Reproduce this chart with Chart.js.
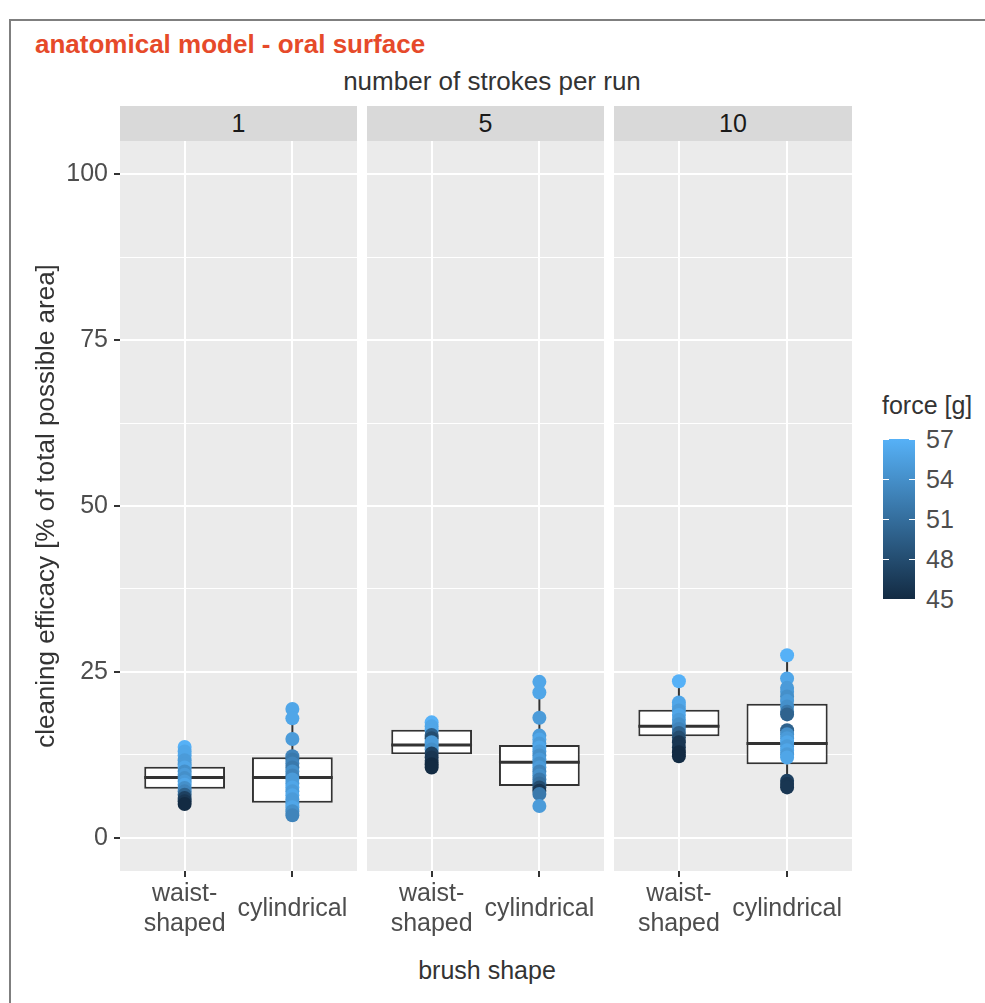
<!DOCTYPE html>
<html><head><meta charset="utf-8">
<script src="https://cdn.jsdelivr.net/npm/chart.js@4.4.0/dist/chart.umd.min.js"></script>
<style>
html,body{margin:0;padding:0;background:#fff;}
#root{position:relative;width:985px;height:1003px;overflow:hidden;font-family:'Liberation Sans',Arial,sans-serif;}
.frame{position:absolute;left:9px;top:19px;width:1000px;height:1000px;border-left:2px solid #7f7f7f;border-top:2px solid #7f7f7f;}
.t{position:absolute;white-space:nowrap;}
.strip{position:absolute;top:106px;height:35px;background:#D9D9D9;color:#1A1A1A;font-size:25px;line-height:35px;text-align:center;}
canvas{position:absolute;top:141px;}
</style></head>
<body><div id="root">
<div class="frame"></div>
<div class="t" style="left:35px;top:29px;font-size:26px;font-weight:bold;color:#E64A2A;">anatomical model - oral surface</div>
<div class="t" id="facetTitle" style="left:0;width:984px;text-align:center;top:66px;font-size:26px;color:#333;">number of strokes per run</div>
<div class="t" id="xTitle" style="left:0;width:974px;text-align:center;top:956px;font-size:25px;color:#333;">brush shape</div>
<canvas id="c0" width="357" height="830" style="left:0px"></canvas>
<canvas id="c1" width="237" height="830" style="left:367px"></canvas>
<canvas id="c2" width="238" height="830" style="left:614px"></canvas>
<div id="legend"></div>
</div>
<script>
// ---- data ----
const panelLabels = ['1', '5', '10'];
const shapeLabels = [['waist-', 'shaped'], 'cylindrical'];
const yMajorTicks = [0, 25, 50, 75, 100];
const yMinorTicks = [12.5, 37.5, 62.5, 87.5];
const legendTicks = [45, 48, 51, 54, 57];

const waist1 = [13.7, 13.0, 12.4, 11.7, 11.1, 10.6, 10.0, 9.5, 9.0, 8.5, 8.0, 7.5, 7.0, 6.5, 6.0, 5.5, 5.1];
const waist1Force = [57, 56, 56, 55, 55, 56, 54, 55, 54, 55, 56, 54, 53, 50, 47, 46, 45];
const cyl1 = [19.4, 18.0, 14.9, 12.3, 11.8, 11.2, 10.6, 10.0, 9.4, 8.8, 8.2, 7.6, 7.0, 6.4, 5.8, 5.2, 4.6, 4.0, 3.4];
const cyl1Force = [56, 56, 55, 53, 52, 53, 52, 54, 53, 55, 55, 56, 55, 56, 55, 55, 56, 54, 53];

const waist5 = [17.4, 16.8, 16.2, 15.5, 15.0, 14.4, 13.8, 13.3, 12.7, 12.1, 11.6, 11.1, 10.6];
const waist5Force = [57, 56, 56, 50, 48, 55, 55, 54, 47, 46, 46, 45, 45];
const cyl5 = [23.5, 21.9, 18.1, 15.4, 14.8, 14.2, 13.6, 13.0, 12.4, 11.8, 11.2, 10.6, 10.0, 9.4, 8.8, 8.2, 7.6, 7.1, 6.6, 4.8];
const cyl5Force = [56, 56, 55, 55, 56, 55, 56, 55, 54, 55, 54, 55, 53, 54, 52, 51, 48, 46, 52, 55];

const waist10 = [23.6, 20.4, 19.8, 19.2, 18.5, 17.8, 17.1, 16.4, 15.8, 15.1, 14.4, 13.6, 12.9, 12.3];
const waist10Force = [57, 56, 56, 55, 56, 55, 54, 53, 50, 48, 46, 46, 45, 45];
const cyl10 = [27.5, 24.0, 22.6, 22.0, 21.3, 20.6, 19.8, 19.0, 18.6, 16.2, 15.6, 15.0, 14.4, 13.8, 13.2, 12.6, 12.1, 8.6, 8.1, 7.6];
const cyl10Force = [57, 56, 55, 55, 54, 55, 54, 52, 50, 50, 54, 55, 56, 55, 56, 55, 56, 47, 46, 46];

const boxQ1 = [[7.4, 5.3], [12.6, 7.8], [15.3, 11.1]];
const boxMedian = [[9.1, 9.1], [14.0, 11.4], [16.8, 14.2]];
const boxQ3 = [[10.7, 12.15], [16.3, 14.0], [19.3, 20.2]];

const panelValues = [[waist1, cyl1], [waist5, cyl5], [waist10, cyl10]];
const panelForces = [[waist1Force, cyl1Force], [waist5Force, cyl5Force], [waist10Force, cyl10Force]];

// ---- colour scale (ggplot default gradient) ----
const lowCol = [0x13, 0x2B, 0x43], highCol = [0x56, 0xB1, 0xF7];
const fMin = 45, fMax = 57;
function forceColor(f) {
  const t = Math.max(0, Math.min(1, (f - fMin) / (fMax - fMin)));
  const c = lowCol.map((l, i) => Math.round(l + (highCol[i] - l) * t));
  return 'rgb(' + c.join(',') + ')';
}

Chart.defaults.font.family = "'Liberation Sans', Arial, sans-serif";
Chart.defaults.animation = false;

const bgPlugin = {
  id: 'panelBg',
  beforeDraw(chart) {
    const a = chart.chartArea, ctx = chart.ctx;
    ctx.save(); ctx.fillStyle = '#EBEBEB';
    ctx.fillRect(a.left, a.top, a.right - a.left, a.bottom - a.top);
    ctx.restore();
  }
};

const boxPlugin = {
  id: 'boxParts',
  beforeDatasetDraw(chart, args) {
    const ds = chart.data.datasets[args.index];
    if (!ds.isBox) return;
    const ys = chart.scales.y, ctx = chart.ctx;
    ctx.save(); ctx.strokeStyle = '#333'; ctx.lineWidth = 2;
    args.meta.data.forEach((el, i) => {
      ctx.beginPath();
      ctx.moveTo(el.x, ys.getPixelForValue(ds.lo[i])); ctx.lineTo(el.x, ys.getPixelForValue(ds.q1[i]));
      ctx.moveTo(el.x, ys.getPixelForValue(ds.q3[i])); ctx.lineTo(el.x, ys.getPixelForValue(ds.hi[i]));
      ctx.stroke();
    });
    ctx.restore();
  },
  afterDatasetDraw(chart, args) {
    const ds = chart.data.datasets[args.index];
    if (!ds.isBox) return;
    const ys = chart.scales.y, ctx = chart.ctx;
    ctx.save(); ctx.strokeStyle = '#333'; ctx.lineWidth = 3;
    args.meta.data.forEach((el, i) => {
      const y = ys.getPixelForValue(ds.med[i]);
      ctx.beginPath(); ctx.moveTo(el.x - el.width / 2, y); ctx.lineTo(el.x + el.width / 2, y); ctx.stroke();
    });
    ctx.restore();
  }
};

function makePanel(p) {
  const showY = p === 0;
  const vals = panelValues[p], forces = panelForces[p];
  const pts = [], cols = [];
  vals.forEach((arr, g) => arr.forEach((v, k) => { pts.push({ x: g + 1, y: v }); cols.push(forceColor(forces[g][k])); }));
  const q1 = boxQ1[p], q3 = boxQ3[p], med = boxMedian[p];
  const lo = vals.map(a => Math.min(...a)), hi = vals.map(a => Math.max(...a));
  const yAll = yMajorTicks.concat(yMinorTicks).sort((a, b) => a - b);
  const isMajor = v => yMajorTicks.includes(v);
  new Chart(document.getElementById('c' + p), {
    type: 'bar',
    data: {
      datasets: [
        { type: 'scatter', order: 0, data: pts, backgroundColor: cols, borderWidth: 0, pointRadius: 7, pointHoverRadius: 7 },
        { type: 'bar', order: 1, isBox: true, q1: q1, q3: q3, med: med, lo: lo, hi: hi,
          data: [{ x: 1, y: [q1[0], q3[0]] }, { x: 2, y: [q1[1], q3[1]] }],
          backgroundColor: '#FFFFFF', borderColor: '#333333', borderWidth: 2, borderSkipped: false,
          barPercentage: 0.75, categoryPercentage: 1 }
      ]
    },
    options: {
      responsive: false,
      layout: { padding: 0, autoPadding: false },
      plugins: { legend: { display: false }, tooltip: { enabled: false } },
      scales: {
        x: {
          type: 'linear', min: 0.4, max: 2.6, offset: false,
          afterBuildTicks: s => { s.ticks = [1, 2].map(v => ({ value: v })); },
          afterFit: s => { s.height = 100; s.paddingLeft = 0; s.paddingRight = 0; },
          grid: { offset: false, color: '#FFFFFF', lineWidth: 2, tickColor: '#333333', tickLength: 6 },
          border: { display: false },
          ticks: { color: '#4D4D4D', font: { size: 25 }, padding: 17, crossAlign: 'center', maxRotation: 0, autoSkip: false,
                   callback: v => shapeLabels[v - 1] }
        },
        y: {
          type: 'linear', min: -5, max: 105,
          afterBuildTicks: s => { s.ticks = yAll.map(v => ({ value: v })); },
          afterFit: s => { s.width = showY ? 120 : 0; s.paddingTop = 0; s.paddingBottom = 0; },
          grid: {
            color: '#FFFFFF',
            lineWidth: c => (c.tick && isMajor(c.tick.value)) ? 2 : 1,
            tickColor: c => (c.tick && isMajor(c.tick.value)) ? '#333333' : 'rgba(0,0,0,0)',
            tickLength: 6, drawTicks: showY
          },
          border: { display: false },
          ticks: { display: showY, padding: 6, color: '#4D4D4D', font: { size: 25 },
                   callback: v => isMajor(v) ? String(v) : '' },
          title: { display: showY, text: 'cleaning efficacy [% of total possible area]', color: '#333',
                   font: { size: 26 }, padding: { top: 31, bottom: 0 } }
        }
      }
    },
    plugins: [bgPlugin, boxPlugin]
  });
}

// strips
const stripLeft = [120, 367, 614], stripWidth = [237, 237, 238];
panelLabels.forEach((lab, i) => {
  const d = document.createElement('div');
  d.className = 'strip';
  d.style.left = stripLeft[i] + 'px'; d.style.width = stripWidth[i] + 'px';
  d.textContent = lab;
  document.getElementById('root').appendChild(d);
});
[0, 1, 2].forEach(makePanel);

// legend (colour bar)
(function () {
  const root = document.getElementById('root');
  const barTop = 439, barH = 160, barLeft = 883, barW = 32;
  const t = document.createElement('div');
  t.className = 't'; t.style.left = '882px'; t.style.top = '391px'; t.style.fontSize = '25px'; t.style.color = '#333';
  t.textContent = 'force [g]'; root.appendChild(t);
  const bar = document.createElement('div');
  bar.style.cssText = 'position:absolute;left:' + barLeft + 'px;top:' + barTop + 'px;width:' + barW + 'px;height:' + barH +
    'px;background:linear-gradient(to top,' + forceColor(fMin) + ',' + forceColor(fMax) + ');';
  root.appendChild(bar);
  legendTicks.forEach(v => {
    const y = barTop + barH - (v - fMin) / (fMax - fMin) * barH;
    ['left', 'right'].forEach(side => {
      const m = document.createElement('div');
      m.style.cssText = 'position:absolute;top:' + (y - 0.5) + 'px;height:1px;width:6px;background:#fff;' +
        (side === 'left' ? 'left:' + barLeft + 'px;' : 'left:' + (barLeft + barW - 6) + 'px;');
      root.appendChild(m);
    });
    const l = document.createElement('div');
    l.className = 't'; l.style.left = '926px'; l.style.top = (y - 14) + 'px'; l.style.fontSize = '25px';
    l.style.color = '#4D4D4D'; l.style.lineHeight = '28px';
    l.textContent = String(v); root.appendChild(l);
  });
})();
</script>
</body></html>
